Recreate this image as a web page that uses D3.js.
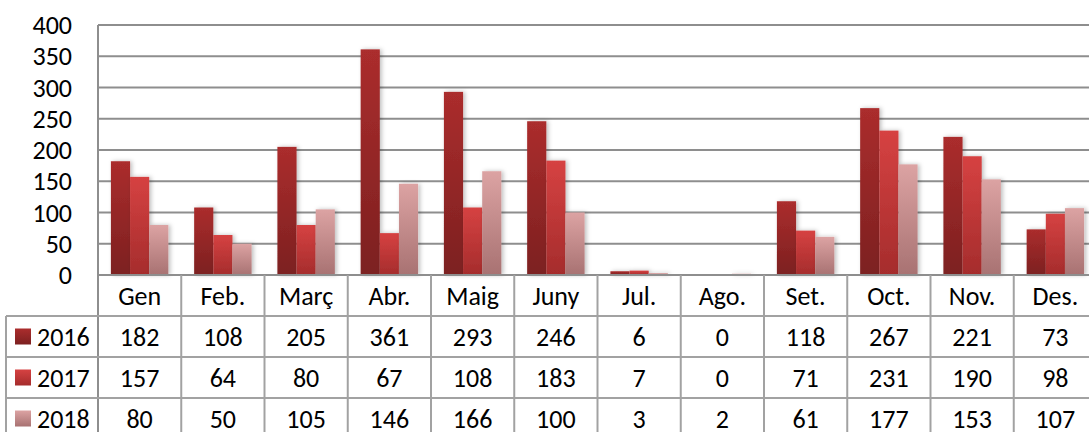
<!DOCTYPE html>
<html>
<head>
<meta charset="utf-8">
<script src="https://cdnjs.cloudflare.com/ajax/libs/d3/7.8.5/d3.min.js"></script>
<style>
  body { margin: 0; background: #fff; overflow: hidden; }
  text { font-family: Carlito, Lato, sans-serif; fill: #000; }
</style>
</head>
<body>
<div id="chart"></div>
<script>
var months = ["Gen", "Feb.", "Març", "Abr.", "Maig", "Juny", "Jul.", "Ago.", "Set.", "Oct.", "Nov.", "Des."];
var years = ["2016", "2017", "2018"];
var v2016 = [182, 108, 205, 361, 293, 246, 6, 0, 118, 267, 221, 73];
var v2017 = [157, 64, 80, 67, 108, 183, 7, 0, 71, 231, 190, 98];
var v2018 = [80, 50, 105, 146, 166, 100, 3, 2, 61, 177, 153, 107];
var yTicks = [0, 50, 100, 150, 200, 250, 300, 350, 400];

var series = [v2016, v2017, v2018];
var colTop = ["#ab2d2d", "#d64242", "#dca3a3"];
var colBot = ["#7c2020", "#a52c2c", "#a87272"];

var W = 1089, H = 432;
var plotLeft = 98, plotRight = 1097, plotTop = 25, zeroY = 275, rowH = 41;
var fs = "26px";

var svg = d3.select("#chart").append("svg")
    .attr("width", W)
    .attr("height", H);

var defs = svg.append("defs");
years.forEach(function(yr, i) {
  var g = defs.append("linearGradient")
      .attr("id", "g" + i)
      .attr("x1", 0).attr("y1", 0).attr("x2", 0).attr("y2", 1);
  g.append("stop").attr("offset", "0%").attr("stop-color", colTop[i]);
  g.append("stop").attr("offset", "100%").attr("stop-color", colBot[i]);
});
var f = defs.append("filter").attr("id", "shadow")
    .attr("x", "-30%").attr("y", "-10%").attr("width", "160%").attr("height", "120%");
f.append("feDropShadow").attr("dx", 2).attr("dy", 0)
    .attr("stdDeviation", 2).attr("flood-color", "#000").attr("flood-opacity", 0.25);

var x = d3.scaleBand().domain(months).range([plotLeft, plotRight])
    .paddingInner(0.31).paddingOuter(0.155);
var xs = d3.scaleBand().domain(years).range([0, x.bandwidth()]);
var y = d3.scaleLinear().domain([0, 400]).range([zeroY, plotTop]);

// gridlines
svg.append("g").selectAll("line")
    .data(yTicks.filter(function(d) { return d > 0; }))
    .enter().append("line")
    .attr("x1", plotLeft).attr("x2", W)
    .attr("y1", function(d) { return y(d); })
    .attr("y2", function(d) { return y(d); })
    .attr("stroke", "#8e8e8e").attr("stroke-width", 2);

// y labels
svg.append("g").selectAll("text")
    .data(yTicks)
    .enter().append("text")
    .attr("x", 72)
    .attr("y", function(d) { return y(d); })
    .attr("dy", "0.35em")
    .attr("text-anchor", "end")
    .style("font-size", fs)
    .text(function(d) { return d; });

// bars
var groups = svg.append("g").selectAll("g")
    .data(years)
    .enter().append("g")
    .attr("fill", function(d, i) { return "url(#g" + i + ")"; })
    .attr("filter", "url(#shadow)");

groups.selectAll("rect")
    .data(function(d, i) {
      return series[i].map(function(v, j) { return {yr: d, m: months[j], v: v}; });
    })
    .enter().append("rect")
    .attr("x", function(d) { return x(d.m) + xs(d.yr); })
    .attr("width", xs.bandwidth())
    .attr("y", function(d) { return y(d.v); })
    .attr("height", function(d) { return zeroY - y(d.v); });

// data table
var step = x.step();
var tbl = svg.append("g").attr("stroke", "#a2a2a2").attr("stroke-width", 2);
tbl.append("line").attr("x1", plotLeft).attr("x2", W).attr("y1", zeroY).attr("y2", zeroY)
    .attr("stroke", "#8e8e8e");
tbl.append("line").attr("x1", plotLeft).attr("x2", plotLeft).attr("y1", plotTop).attr("y2", H)
    .attr("stroke", "#8e8e8e");
d3.range(1, months.length + 1).forEach(function(k) {
  var xx = plotLeft + k * step;
  tbl.append("line").attr("x1", xx).attr("x2", xx).attr("y1", zeroY).attr("y2", H);
});
[1, 2, 3].forEach(function(r) {
  var yy = zeroY + r * rowH;
  tbl.append("line").attr("x1", 6).attr("x2", W).attr("y1", yy).attr("y2", yy);
});
tbl.append("line").attr("x1", 6).attr("x2", 6).attr("y1", zeroY + rowH).attr("y2", H);

svg.append("g").selectAll("text")
    .data(months)
    .enter().append("text")
    .attr("x", function(d) { return x(d) + x.bandwidth() / 2; })
    .attr("y", zeroY + rowH / 2)
    .attr("dy", "0.35em")
    .attr("text-anchor", "middle")
    .style("font-size", fs)
    .text(function(d) { return d; });

years.forEach(function(yr, i) {
  var cy = zeroY + (i + 1) * rowH + rowH / 2;
  svg.append("rect")
      .attr("x", 15).attr("y", cy - 8).attr("width", 16).attr("height", 16)
      .attr("fill", "url(#g" + i + ")");
  svg.append("text")
      .attr("x", 37).attr("y", cy).attr("dy", "0.35em")
      .style("font-size", fs)
      .text(yr);
  svg.append("g").selectAll("text")
      .data(series[i])
      .enter().append("text")
      .attr("x", function(d, j) { return x(months[j]) + x.bandwidth() / 2; })
      .attr("y", cy)
      .attr("dy", "0.35em")
      .attr("text-anchor", "middle")
      .style("font-size", fs)
      .text(function(d) { return d; });
});
</script>
</body>
</html>
